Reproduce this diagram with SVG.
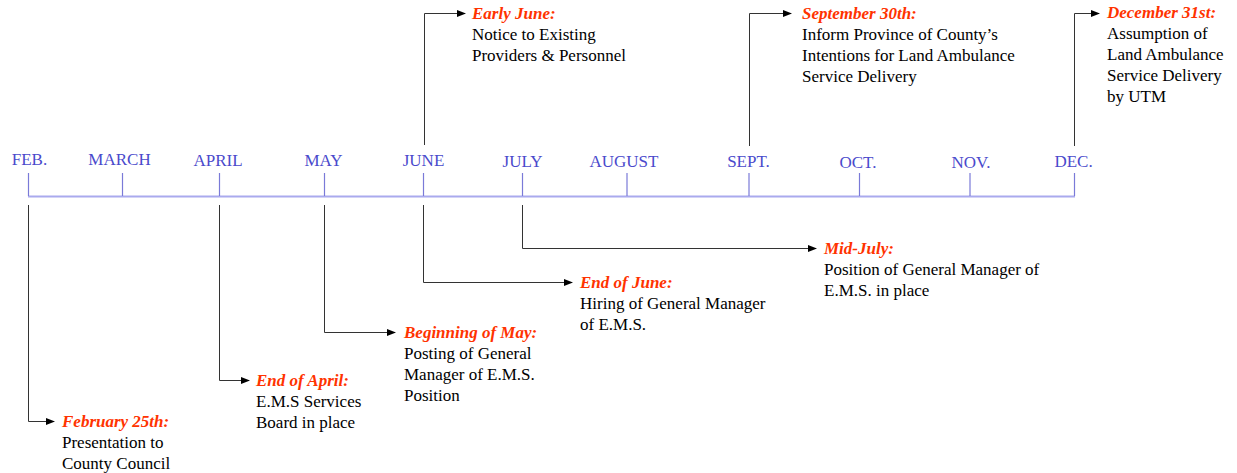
<svg xmlns="http://www.w3.org/2000/svg" width="1237" height="473" viewBox="0 0 1237 473">
<defs>
<style>
.month{font-family:"Liberation Serif","Times New Roman",serif;font-size:17px;fill:#4a4acc;text-anchor:middle}
.axis{stroke:#aaaaee;stroke-width:2;fill:none}
.tick{stroke:#7a7ad8;stroke-width:1.2;fill:none}
.conn{stroke:#333;stroke-width:1;fill:none;marker-end:url(#ah)}
.title{font-family:"Liberation Serif","Times New Roman",serif;font-size:17px;font-weight:bold;font-style:italic;fill:#ff3300}
.body{font-family:"Liberation Serif","Times New Roman",serif;font-size:17px;fill:#000}
</style>
<marker id="ah" markerWidth="9" markerHeight="7" refX="8" refY="3.5" orient="auto" markerUnits="userSpaceOnUse">
<path d="M0,0 L9,3.5 L0,7 z" fill="#000"/>
</marker>
</defs>
<rect width="1237" height="473" fill="#fff"/>
<g id="timeline">
<line class="axis" x1="28" y1="196.5" x2="1075" y2="196.5"/>
<g>
<line class="tick" x1="28.5" y1="173" x2="28.5" y2="196"/>
<line class="tick" x1="122.5" y1="173" x2="122.5" y2="196"/>
<line class="tick" x1="219.5" y1="173" x2="219.5" y2="196"/>
<line class="tick" x1="324.5" y1="173" x2="324.5" y2="196"/>
<line class="tick" x1="423.5" y1="173" x2="423.5" y2="196"/>
<line class="tick" x1="522.5" y1="173" x2="522.5" y2="196"/>
<line class="tick" x1="627" y1="173" x2="627" y2="196"/>
<line class="tick" x1="749" y1="173" x2="749" y2="196"/>
<line class="tick" x1="859.5" y1="173" x2="859.5" y2="196"/>
<line class="tick" x1="970" y1="173" x2="970" y2="196"/>
<line class="tick" x1="1074.5" y1="173" x2="1074.5" y2="196"/>
</g>
<text class="month" x="29.5" y="165">FEB.</text>
<text class="month" x="119.5" y="165">MARCH</text>
<text class="month" x="218" y="166">APRIL</text>
<text class="month" x="323.5" y="166">MAY</text>
<text class="month" x="423.5" y="166">JUNE</text>
<text class="month" x="522.5" y="167">JULY</text>
<text class="month" x="624" y="167">AUGUST</text>
<text class="month" x="748.5" y="167">SEPT.</text>
<text class="month" x="858" y="168">OCT.</text>
<text class="month" x="971" y="168">NOV.</text>
<text class="month" x="1073.5" y="167">DEC.</text>
</g>
<g id="connectors">
<polyline class="conn" points="28.5,205 28.5,421.5 54,421.5"/>
<polyline class="conn" points="219.5,205 219.5,380.5 249,380.5"/>
<polyline class="conn" points="324.5,205 324.5,332.5 395,332.5"/>
<polyline class="conn" points="423.5,205 423.5,282.5 572,282.5"/>
<polyline class="conn" points="522.5,205 522.5,248.5 816,248.5"/>
<polyline class="conn" points="424.5,145 424.5,13.5 465,13.5"/>
<polyline class="conn" points="749.5,146 749.5,13.5 791,13.5"/>
<polyline class="conn" points="1074.5,146 1074.5,13.5 1099,13.5"/>
</g>
<g id="feb25">
<text class="title" x="62" y="427">February 25th:</text>
<text class="body" x="62" y="448">Presentation to</text>
<text class="body" x="62" y="469">County Council</text>
</g>
<g id="endapril">
<text class="title" x="256" y="386">End of April:</text>
<text class="body" x="256" y="407">E.M.S Services</text>
<text class="body" x="256" y="428">Board in place</text>
</g>
<g id="beginmay">
<text class="title" x="404" y="338">Beginning of May:</text>
<text class="body" x="404" y="359">Posting of General</text>
<text class="body" x="404" y="380">Manager of E.M.S.</text>
<text class="body" x="404" y="401">Position</text>
</g>
<g id="endjune">
<text class="title" x="580" y="288">End of June:</text>
<text class="body" x="580" y="309">Hiring of General Manager</text>
<text class="body" x="580" y="330">of E.M.S.</text>
</g>
<g id="midjuly">
<text class="title" x="824" y="254">Mid-July:</text>
<text class="body" x="824" y="275">Position of General Manager of</text>
<text class="body" x="824" y="296">E.M.S. in place</text>
</g>
<g id="earlyjune">
<text class="title" x="472" y="19">Early June:</text>
<text class="body" x="472" y="40">Notice to Existing</text>
<text class="body" x="472" y="61">Providers &amp; Personnel</text>
</g>
<g id="sept30">
<text class="title" x="802" y="19">September 30th:</text>
<text class="body" x="802" y="40">Inform Province of County’s</text>
<text class="body" x="802" y="61">Intentions for Land Ambulance</text>
<text class="body" x="802" y="82">Service Delivery</text>
</g>
<g id="dec31">
<text class="title" x="1107" y="18">December 31st:</text>
<text class="body" x="1107" y="39">Assumption of</text>
<text class="body" x="1107" y="60">Land Ambulance</text>
<text class="body" x="1107" y="81">Service Delivery</text>
<text class="body" x="1107" y="102">by UTM</text>
</g>
</svg>
